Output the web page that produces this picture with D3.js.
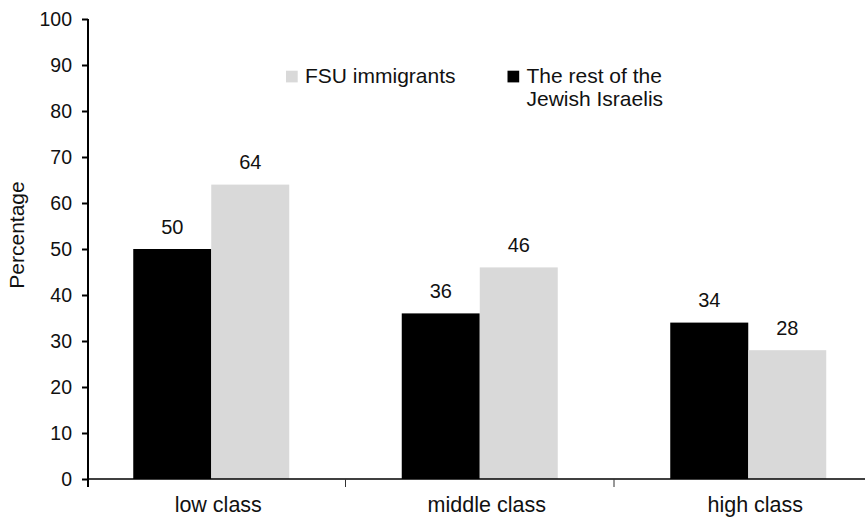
<!DOCTYPE html>
<html>
<head>
<meta charset="utf-8">
<script src="https://cdn.jsdelivr.net/npm/d3@7"></script>
<style>
  html, body { margin: 0; padding: 0; background: #fff; }
  svg { display: block; font-family: "Liberation Sans", Arial, Helvetica, sans-serif; }
</style>
</head>
<body>
<svg id="chart" width="865" height="518"></svg>
<script>
const categories = ["low class", "middle class", "high class"];
const seriesNames = ["The rest of the Jewish Israelis", "FSU immigrants"];
const restJewish = [50, 36, 34];
const fsuImmigrants = [64, 46, 28];
const yTicks = [0, 10, 20, 30, 40, 50, 60, 70, 80, 90, 100];
const colors = ["#000000", "#d9d9d9"];

const svg = d3.select("#chart");
const W = 865, H = 518;
const axisX = 88, y0 = 479, yTop = 19;

const y = d3.scaleLinear().domain([0, 100]).range([y0, yTop]);
const x = d3.scaleBand().domain(categories).range([77, 882.5]).paddingInner(0).paddingOuter(0);
const bw = x.bandwidth();
const groupW = 156;
const x1 = d3.scaleBand().domain(seriesNames).range([(bw - groupW) / 2, (bw + groupW) / 2]);

const data = categories.map((c, i) => ({
  cat: c,
  vals: [
    { s: seriesNames[0], v: restJewish[i], color: colors[0] },
    { s: seriesNames[1], v: fsuImmigrants[i], color: colors[1] }
  ]
}));

// bars
const g = svg.append("g");
const groups = g.selectAll("g.grp").data(data).join("g")
  .attr("transform", d => `translate(${x(d.cat)},0)`);
groups.selectAll("rect").data(d => d.vals).join("rect")
  .attr("x", d => x1(d.s))
  .attr("width", x1.bandwidth())
  .attr("y", d => y(d.v))
  .attr("height", d => y(0) - y(d.v))
  .attr("fill", d => d.color);
groups.selectAll("text").data(d => d.vals).join("text")
  .attr("x", d => x1(d.s) + x1.bandwidth() / 2)
  .attr("y", d => y(d.v) - 15.5)
  .attr("text-anchor", "middle")
  .attr("font-size", 20)
  .attr("fill", "#111")
  .text(d => d.v);

// x axis line
svg.append("line")
  .attr("x1", axisX).attr("x2", W)
  .attr("y1", y0).attr("y2", y0)
  .attr("stroke", "#000").attr("stroke-width", 1.5);
// x ticks at band boundaries
const boundaries = categories.slice(1).map(c => x(c));
svg.selectAll("line.xt").data(boundaries).join("line")
  .attr("x1", d => d).attr("x2", d => d)
  .attr("y1", y0).attr("y2", y0 + 8)
  .attr("stroke", "#333").attr("stroke-width", 1);
// category labels
svg.selectAll("text.cat").data(categories).join("text")
  .attr("x", d => x(d) + bw / 2 + 7)
  .attr("y", 512)
  .attr("text-anchor", "middle")
  .attr("font-size", 21.5)
  .attr("fill", "#111")
  .text(d => d);

// y axis
const yAxis = d3.axisLeft(y).tickValues(yTicks).tickSize(6).tickPadding(10).tickSizeOuter(0);
const ya = svg.append("g").attr("transform", `translate(${axisX},0)`).call(yAxis);
ya.select(".domain").remove();
ya.selectAll(".tick line").attr("stroke", "#000").attr("stroke-width", 2);
ya.selectAll(".tick text").attr("font-size", 19.5).attr("fill", "#111")
  .attr("font-family", "Liberation Sans, Arial, sans-serif");
svg.append("line")
  .attr("x1", axisX).attr("x2", axisX)
  .attr("y1", yTop).attr("y2", y0 + 8)
  .attr("stroke", "#000").attr("stroke-width", 2);

// y label
svg.append("text")
  .attr("transform", `translate(24,235) rotate(-90)`)
  .attr("text-anchor", "middle")
  .attr("font-size", 21)
  .attr("fill", "#111")
  .text("Percentage");

// legend
const legend = [
  { label: ["FSU immigrants"], color: colors[1], x: 286 },
  { label: ["The rest of the", "Jewish Israelis"], color: colors[0], x: 507.5 }
];
const lg = svg.selectAll("g.lg").data(legend).join("g");
lg.append("rect")
  .attr("x", d => d.x).attr("y", 70.7)
  .attr("width", 11.7).attr("height", 11.7)
  .attr("fill", d => d.color);
lg.each(function(d) {
  const t = d3.select(this).append("text")
    .attr("x", d.x + 19)
    .attr("y", 82.5)
    .attr("font-size", 21)
    .attr("fill", "#111");
  d.label.forEach((line, i) => {
    t.append("tspan").attr("x", d.x + 19).attr("dy", i === 0 ? 0 : 23).text(line);
  });
});
</script>
</body>
</html>
